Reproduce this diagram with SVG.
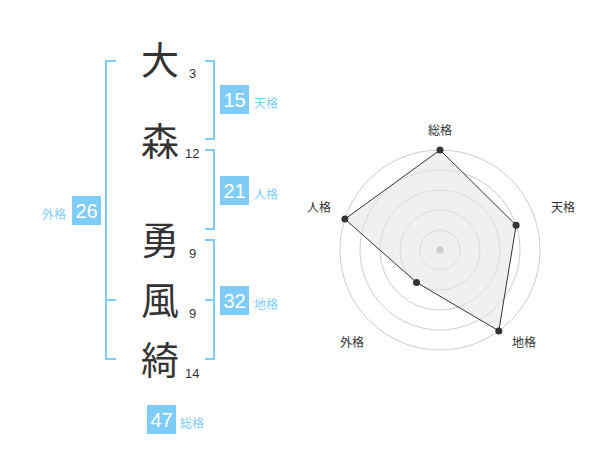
<svg xmlns="http://www.w3.org/2000/svg" width="600" height="470" viewBox="0 0 600 470">
<style>
.ch{font-family:"Noto Sans CJK JP","Noto Sans CJK SC",sans-serif;font-size:38px;fill:#333;text-anchor:middle}
.num{font-family:"Liberation Sans",Arial,sans-serif;font-size:13px;fill:#333}
.br{fill:none;stroke:#80ccf8;stroke-width:2}
.box{fill:#80ccf8}
.bt{font-family:"Liberation Sans",Arial,sans-serif;font-size:20px;fill:#fff;text-anchor:middle}
.lb{font-family:"Noto Sans CJK JP","Noto Sans CJK SC",sans-serif;font-size:12px;fill:#80ccf8}
.ring{fill:none;stroke:#ccc;stroke-width:1}
.ax{font-family:"Noto Sans CJK JP","Noto Sans CJK SC",sans-serif;font-size:12px;fill:#333;text-anchor:middle}
.pt{fill:#333}
</style>
<g id="name">
<g id="c1"><text class="ch" x="160" y="74">大</text><text class="num" x="189" y="78">3</text></g>
<g id="c2"><text class="ch" x="160" y="155">森</text><text class="num" x="185" y="158">12</text></g>
<g id="c3"><text class="ch" x="160" y="254">勇</text><text class="num" x="189" y="258">9</text></g>
<g id="c4"><text class="ch" x="160" y="314">風</text><text class="num" x="189" y="318">9</text></g>
<g id="c5"><text class="ch" x="160" y="374">綺</text><text class="num" x="185" y="378">14</text></g>
</g>
<g id="connectors">
<path class="br" d="M116,61 H106 V359 H116 M106,300 H116"/>
<path class="br" d="M205,61 H214 V139 H205"/>
<path class="br" d="M205,150 H214 V229 H205"/>
<path class="br" d="M205,240 H214 V359 H205 M214,300 H205"/>
</g>
<g id="tenkaku"><rect class="box" x="220" y="85" width="29" height="29"/><text class="bt" x="234.5" y="107">15</text><text class="lb" x="254" y="108">天格</text></g>
<g id="jinkaku"><rect class="box" x="220" y="176" width="29" height="29"/><text class="bt" x="234.5" y="198">21</text><text class="lb" x="254" y="199">人格</text></g>
<g id="gaikaku"><rect class="box" x="72" y="196" width="29" height="29"/><text class="bt" x="86.5" y="218">26</text><text class="lb" x="42" y="219">外格</text></g>
<g id="chikaku"><rect class="box" x="220" y="286" width="29" height="29"/><text class="bt" x="234.5" y="308">32</text><text class="lb" x="254" y="309">地格</text></g>
<g id="soukaku"><rect class="box" x="147" y="405" width="29" height="29"/><text class="bt" x="161.5" y="427">47</text><text class="lb" x="180" y="428">総格</text></g>
<g id="radar">
<circle class="ring" cx="440" cy="250" r="20"/>
<circle class="ring" cx="440" cy="250" r="40"/>
<circle class="ring" cx="440" cy="250" r="60"/>
<circle class="ring" cx="440" cy="250" r="80"/>
<circle class="ring" cx="440" cy="250" r="100"/>
<polygon points="440,150 516.1,225.3 498.8,330.9 416.5,282.4 344.9,219.1" fill="#e6e6e6" fill-opacity="0.6" stroke="#333" stroke-width="1"/>
<circle cx="440" cy="250" r="3.5" fill="#ccc"/>
<circle class="pt" cx="440" cy="150" r="3.5"/>
<circle class="pt" cx="516.1" cy="225.3" r="3.5"/>
<circle class="pt" cx="498.8" cy="330.9" r="3.5"/>
<circle class="pt" cx="416.5" cy="282.4" r="3.5"/>
<circle class="pt" cx="344.9" cy="219.1" r="3.5"/>
<text class="ax" x="440" y="135">総格</text>
<text class="ax" x="563" y="212">天格</text>
<text class="ax" x="319" y="212">人格</text>
<text class="ax" x="524" y="347">地格</text>
<text class="ax" x="352" y="347">外格</text>
</g>
</svg>
